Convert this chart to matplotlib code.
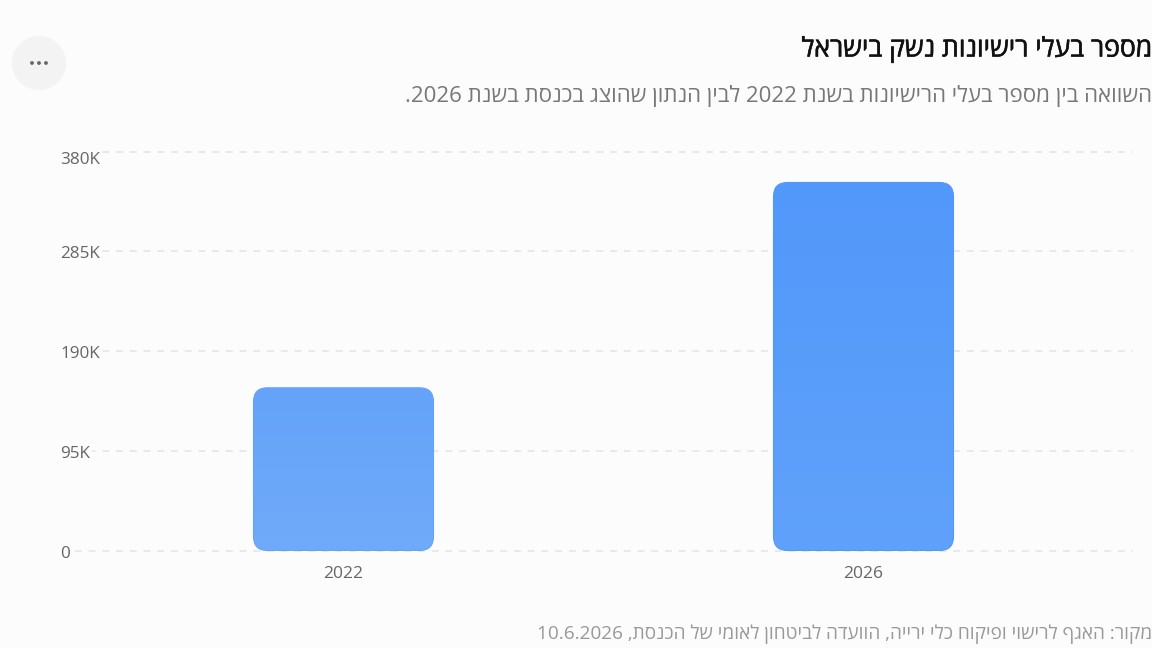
import re
import numpy as np
import matplotlib
matplotlib.use('Agg')
import matplotlib.pyplot as plt
import matplotlib.patheffects as pe
from matplotlib.patches import FancyBboxPatch, Circle
from matplotlib.colors import LinearSegmentedColormap
from matplotlib.transforms import ScaledTranslation

W, H = 1152, 648
BG = '#fcfcfc'

years = ['2022', '2026']
owners = [155000, 350500]
y_ticks = [0, 95000, 190000, 285000, 380000]
y_labels = ['0', '95K', '190K', '285K', '380K']

title = 'מספר בעלי רישיונות נשק בישראל'
subtitle = 'השוואה בין מספר בעלי הרישיונות בשנת 2022 לבין הנתון שהוצג בכנסת בשנת 2026.'
source = 'מקור: האגף לרישוי ופיקוח כלי ירייה, הוועדה לביטחון לאומי של הכנסת, 10.6.2026'

# bottom and top colour of each bar's gradient
bar_colors = [('#70aaf9', '#64a3fa'), ('#60a2fa', '#5298fb')]

plt.rcParams['font.family'] = ['Open Sans', 'Noto Sans', 'DejaVu Sans']


def visual(s):
    # matplotlib has no bidi, so put the logical string in display order
    tail = ''
    if s.endswith('.'):
        s, tail = s[:-1], '.'
    parts = re.findall(r'[0-9]+(?:\.[0-9]+)*|[^0-9]+', s)
    return tail + ''.join(p if p[0].isdigit() else p[::-1] for p in parts[::-1])


def px(x):
    return x / W


def py(y):
    return 1 - y / H


fig = plt.figure(figsize=(W / 100, H / 100), dpi=100, facecolor=BG)

# plot area in pixels
left, right, top, bottom = 75, 1133, 151.5, 550.5
ax = fig.add_axes([px(left), py(bottom), px(right - left), (bottom - top) / H])
ax.set_facecolor('none')
for s in ax.spines.values():
    s.set_visible(False)

ax.set_yticks(y_ticks)
ax.set_yticklabels(y_labels, ha='left', fontsize=12.3, color='#666666',
                   bbox=dict(facecolor=BG, edgecolor='none', pad=1.5))
ax.tick_params(axis='y', length=0, pad=10.8)
# labels sit a little under their grid lines, the top one by more
for i, label in enumerate(ax.get_yticklabels()):
    shift = 6 if i == len(y_ticks) - 1 else 1
    label.set_transform(label.get_transform() + ScaledTranslation(0, -shift / 100, fig.dpi_scale_trans))
x_pos = np.arange(len(years))
ax.set_xticks(x_pos)
ax.set_xticklabels(years, fontsize=12.5, color='#666666')
ax.tick_params(axis='x', length=0, pad=10.8)
ax.grid(axis='y', color='#e8e8e8', linewidth=1.3, linestyle=(0, (3.8, 3.8)))
for line in ax.get_ygridlines():
    line.set_clip_on(False)
ax.set_axisbelow(True)

bar_w = 180 / 520
radius = 14 / 520
aspect = (380000 / (bottom - top)) / (1 / 520)
for x, v, (c0, c1) in zip(x_pos, owners, bar_colors):
    cmap = LinearSegmentedColormap.from_list('bar', [c0, c1])
    box = FancyBboxPatch((x - bar_w / 2, 0), bar_w, v,
                         boxstyle=f'round,pad=0,rounding_size={radius}',
                         mutation_aspect=aspect, facecolor='none',
                         edgecolor=c1, linewidth=0.8, zorder=3)
    ax.add_patch(box)
    im = ax.imshow(np.linspace(1, 0, 256).reshape(-1, 1), cmap=cmap, vmin=0, vmax=1,
                   extent=(x - bar_w / 2, x + bar_w / 2, 0, v),
                   aspect='auto', zorder=2.5, origin='upper')
    im.set_clip_path(box)
ax.set_xlim((left - 343.5) / 520, (right - 343.5) / 520)
ax.set_ylim(0, 380000)

# menu button
fig.add_artist(Circle((39, H - 63), 27, transform=None, facecolor='#f3f3f3', edgecolor='none'))
for dx in (-7, 0, 7):
    fig.add_artist(Circle((39 + dx, H - 63), 1.9, transform=None, facecolor='#666666', edgecolor='none'))

# no medium weight installed, a thin stroke thickens the title instead
fig.text(px(1152), py(49.5), visual(title), ha='right', va='center', fontsize=19.1, color='#111111',
         path_effects=[pe.withStroke(linewidth=0.4, foreground='#111111')])
fig.text(px(1152), py(96), visual(subtitle), ha='right', va='center', fontsize=16, color='#777777')
fig.text(px(1152), py(634), visual(source), ha='right', va='center', fontsize=13.65, color='#999999')

fig.savefig('out.png', dpi=100, facecolor=BG)
